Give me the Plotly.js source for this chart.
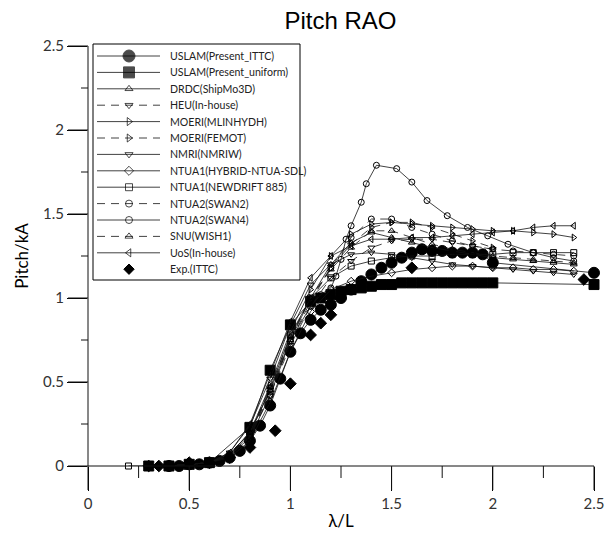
<!DOCTYPE html>
<html><head><meta charset="utf-8">
<script src="https://cdn.plot.ly/plotly-3.0.1.min.js"></script>
<style>body{margin:0;padding:0;background:#fff}</style>
</head><body><div id="chart"></div>
<script>
// ---- data ----
const names = ["USLAM(Present_ITTC)","USLAM(Present_uniform)","DRDC(ShipMo3D)","HEU(In-house)","MOERI(MLINHYDH)","MOERI(FEMOT)","NMRI(NMRIW)","NTUA1(HYBRID-NTUA-SDL)","NTUA1(NEWDRIFT 885)","NTUA2(SWAN2)","NTUA2(SWAN4)","SNU(WISH1)","UoS(In-house)","Exp.(ITTC)"];

const xIttc = [0.4,0.45,0.5,0.55,0.6,0.65,0.7,0.75,0.8,0.85,0.9,0.95,1.0,1.05,1.1,1.15,1.2,1.25,1.3,1.35,1.4,1.45,1.5,1.55,1.6,1.65,1.7,1.75,1.8,1.85,1.9,1.95,2.0,2.5];
const yIttc = [0,0,0.01,0.01,0.02,0.03,0.05,0.09,0.15,0.24,0.36,0.52,0.68,0.79,0.87,0.93,0.96,1.0,1.05,1.1,1.14,1.18,1.21,1.24,1.27,1.29,1.28,1.28,1.27,1.27,1.27,1.26,1.21,1.15];

const xUni = [0.3,0.4,0.5,0.6,0.8,0.9,1.0,1.1,1.15,1.2,1.25,1.3,1.35,1.4,1.45,1.5,1.55,1.6,1.65,1.7,1.75,1.8,1.85,1.9,1.95,2.0,2.5];
const yUni = [0,0,0.01,0.02,0.23,0.57,0.84,0.98,1.0,1.02,1.04,1.05,1.06,1.07,1.08,1.08,1.09,1.09,1.09,1.09,1.09,1.09,1.09,1.09,1.09,1.09,1.08];

const xStep = [0.4,0.5,0.6,0.7,0.8,0.9,1.0,1.1,1.2,1.3,1.4,1.5,1.6,1.7,1.8,1.9,2.0,2.1,2.2,2.3,2.4];

const xDrdc = [0.3,0.4,0.5,0.6,0.7,0.8,0.9,1.0,1.1,1.2,1.3,1.4,1.5,1.6,1.7,1.8,1.9,2.0,2.1,2.2,2.3,2.4];
const yDrdc = [0,0,0.01,0.02,0.07,0.2,0.45,0.75,1.0,1.2,1.33,1.39,1.36,1.33,1.3,1.28,1.26,1.24,1.23,1.22,1.21,1.2];

const xHeu = [0.4,0.5,0.6,0.7,0.8,0.9,1.0,1.1,1.2,1.3,1.4,1.5,1.6,1.7,1.8,1.9,2.0];
const yHeu = [0,0.01,0.02,0.06,0.18,0.42,0.72,0.95,1.12,1.22,1.3,1.34,1.35,1.35,1.33,1.31,1.29];

const yMlin = [0,0.01,0.02,0.07,0.2,0.48,0.8,1.05,1.25,1.38,1.44,1.45,1.44,1.43,1.42,1.41,1.40,1.40,1.39,1.38,1.36];

const xFemot = [0.4,0.5,0.6,0.7,0.8,0.9,1.0,1.1,1.2,1.3,1.4,1.5,1.6,1.7,1.8,1.9,2.0];
const yFemot = [0,0.01,0.02,0.06,0.18,0.45,0.76,1.0,1.18,1.32,1.42,1.45,1.45,1.42,1.38,1.34,1.3];

const yNmri = [0,0.01,0.02,0.08,0.24,0.52,0.84,1.08,1.2,1.26,1.27,1.26,1.24,1.22,1.2,1.19,1.18,1.17,1.16,1.15,1.14];

const xHyb = [0.3,0.4,0.5,0.6,0.7,0.8,0.9,1.0,1.1,1.2,1.3,1.4,1.5,1.6,1.7,1.8,1.9,2.0,2.1,2.2,2.3,2.4];
const yHyb = [0,0,0.01,0.02,0.05,0.15,0.38,0.68,0.92,1.05,1.1,1.13,1.15,1.17,1.18,1.19,1.19,1.18,1.18,1.17,1.17,1.16];

const xNew = [0.2,0.3,0.4,0.5,0.6,0.7,0.8,0.9,1.0,1.1,1.2,1.3,1.4,1.5,1.6,1.7,1.8,1.9,2.0,2.1,2.2,2.3,2.4];
const yNew = [0,0,0,0.01,0.02,0.06,0.19,0.46,0.78,1.0,1.12,1.19,1.22,1.24,1.25,1.25,1.26,1.26,1.26,1.27,1.27,1.27,1.27];

const ySwan2 = [0,0.01,0.02,0.06,0.18,0.44,0.74,0.98,1.18,1.36,1.47,1.47,1.42,1.38,1.34,1.31,1.29,1.28,1.27,1.26,1.25];

const xSwan4 = [0.4,0.5,0.6,0.7,0.8,0.9,1.0,1.1,1.15,1.2,1.225,1.25,1.275,1.3,1.35,1.375,1.425,1.525,1.6,1.675,1.775,1.875,1.975,2.075,2.2,2.3,2.4];
const ySwan4 = [0,0.01,0.02,0.06,0.17,0.42,0.75,0.95,1.02,1.06,1.13,1.23,1.35,1.43,1.57,1.68,1.79,1.77,1.69,1.58,1.49,1.42,1.37,1.32,1.27,1.24,1.22];

const ySnu = [0,0.01,0.02,0.07,0.2,0.47,0.77,1.0,1.17,1.3,1.4,1.4,1.36,1.32,1.29,1.27,1.25,1.24,1.23,1.22,1.21];

const yUos = [0,0.01,0.02,0.08,0.25,0.55,0.86,1.12,1.25,1.31,1.35,1.35,1.36,1.36,1.37,1.38,1.39,1.40,1.42,1.43,1.43];

const xExp = [0.3,0.35,0.4,0.5,0.6,0.7,0.8,0.925,1.0,1.1,1.15,1.2,1.6,2.45];
const yExp = [0,0,0,0.02,0.02,0.05,0.11,0.21,0.49,0.78,0.85,0.9,1.18,1.11];

const xTicks = [0,0.5,1,1.5,2,2.5];
const xMinor = [0.25,0.75,1.25,1.75,2.25];
const yTicks = [0,0.5,1,1.5,2,2.5];
const yMinor = [0.25,0.75,1.25,1.75,2.25];
const xRange = [0,2.5];
const yRange = [0,2.5];

// ---- figure geometry ----
const FW = 608, FH = 535;
const P = {l:88, r:594, t:46, b:466};
const xDom = [P.l/FW, P.r/FW];
const yDom = [1 - P.b/FH, 1 - P.t/FH];

// ---- series styles ----
const D = '8px,6px';
const styles = [
  {sym:'circle', size:11}, {sym:'square', size:10},
  {sym:'triangle-up-open', size:6}, {sym:'triangle-down-open', size:6, dash:D},
  {sym:'triangle-right-open', size:6}, {sym:'triangle-right-open', size:6, dash:D},
  {sym:'triangle-down-open', size:6}, {sym:'diamond-open', size:6},
  {sym:'square-open', size:6}, {sym:'circle-open', size:6, dash:D},
  {sym:'circle-open', size:6}, {sym:'triangle-up-open', size:6, dash:D},
  {sym:'triangle-left-open', size:6}, {sym:'diamond', size:9, nolines:true}
];
const series = [[xIttc,yIttc],[xUni,yUni],[xDrdc,yDrdc],[xHeu,yHeu],[xStep,yMlin],[xFemot,yFemot],[xStep,yNmri],[xHyb,yHyb],[xNew,yNew],[xStep,ySwan2],[xSwan4,ySwan4],[xStep,ySnu],[xStep,yUos],[xExp,yExp]];

const LC = '#111';

// ---- axis lines and tick marks: one line trace on the full-page pixel subplot (x2/y2),
//      positioned with the same linear mapping the x/y axes use (domain + range) ----
const X = v => FW*(xDom[0] + (v-xRange[0])/(xRange[1]-xRange[0])*(xDom[1]-xDom[0]));
const Y = v => FH*(1 - (yDom[0] + (v-yRange[0])/(yRange[1]-yRange[0])*(yDom[1]-yDom[0])));
const axX = [], axY = [];
const seg = (a,b,c,d)=>{ axX.push(a,c,null); axY.push(b,d,null); };
const ox = X(xRange[0]), oy = Y(yRange[0]);
seg(X(xRange[0]), oy, X(xRange[1]), oy);
seg(ox, Y(yRange[0]), ox, Y(yRange[1]));
xTicks.forEach(v=>seg(X(v), oy, X(v), oy+24));
xMinor.forEach(v=>seg(X(v), oy, X(v), oy+12));
yTicks.forEach(v=>seg(ox, Y(v), ox-20, Y(v)));
yMinor.forEach(v=>seg(ox, Y(v), ox-7, Y(v)));

const data = [{type:'scatter', mode:'lines', xaxis:'x2', yaxis:'y2', x:axX, y:axY, showlegend:false, hoverinfo:'skip',
  cliponaxis:false, line:{color:LC, width:1}, connectgaps:false}];

series.forEach((s,i)=>data.push({
  type:'scatter', mode: styles[i].nolines ? 'markers' : 'lines+markers', name:names[i], x:s[0], y:s[1],
  cliponaxis:false, showlegend:false,
  line:{color:LC, width:0.8, dash: styles[i].dash || 'solid'},
  marker:{symbol:styles[i].sym, size:styles[i].size, color:'#000', line:{color:'#000', width:1}}
}));

// ---- hand-built legend on the same pixel subplot ----
const LG = {x0:93, x1:300, y0:44, y1:280, first:56, step:16.4, lineA:97, lineB:160, mk:129, text:168};
const annotations = [];
names.forEach((nm,i)=>{
  const yy = LG.first + LG.step*i;
  const st = styles[i];
  data.push({type:'scatter', xaxis:'x2', yaxis:'y2', mode: st.nolines ? 'markers' : 'lines+markers',
    x: st.nolines ? [LG.mk] : [LG.lineA, LG.mk, LG.lineB], y: st.nolines ? [yy] : [yy,yy,yy],
    cliponaxis:false, showlegend:false, hoverinfo:'skip',
    line:{color:LC, width:0.8, dash: st.dash || 'solid'},
    marker:{symbol:st.sym, size: st.nolines ? st.size-1 : [0, st.size+1, 0], color:'#000', line:{color:'#000', width:1}}});
  annotations.push({xref:'x2', yref:'y2', x:LG.text, y:yy, text:nm, showarrow:false, xanchor:'left', yanchor:'middle',
    font:{family:'Lato, "Open Sans", sans-serif', size:10.6, color:'#222'}});
});

const shapes = [{type:'rect', xref:'paper', yref:'paper', layer:'below',
    x0:LG.x0/FW, x1:LG.x1/FW, y0:1-LG.y1/FH, y1:1-LG.y0/FH,
    line:{color:'#000', width:1}, fillcolor:'#fff'}];

const tickFont = {family:'Lato, "Open Sans", sans-serif', size:15, color:'#333'};
const layout = {
  width:FW, height:FH,
  margin:{l:0, r:0, t:0, b:0, pad:0},
  paper_bgcolor:'#fff', plot_bgcolor:'rgba(0,0,0,0)',
  title:{text:'Pitch RAO', font:{family:'"Liberation Sans", Arial, sans-serif', size:24, color:'#000'}, x:0.56, xanchor:'center', y:0.962, yanchor:'middle'},
  showlegend:false,
  annotations, shapes,
  xaxis:{domain:xDom, anchor:'y', range:xRange, tickvals:xTicks, ticktext:xTicks.map(String), ticks:'outside', ticklen:24, tickcolor:'#000', tickwidth:1,
    showline:false, zeroline:false, showgrid:false, tickfont:tickFont, automargin:false,
    title:{text:'λ/L', font:{family:'Lato, "Open Sans", sans-serif', size:17, color:'#000'}, standoff:4}},
  yaxis:{domain:yDom, anchor:'x', range:yRange, tickvals:yTicks, ticktext:yTicks.map(String), ticks:'outside', ticklen:20, tickcolor:'#000', tickwidth:1,
    showline:false, zeroline:false, showgrid:false, tickfont:tickFont, automargin:false,
    title:{text:'Pitch/kA', font:{family:'Lato, "Open Sans", sans-serif', size:17, color:'#000'}, standoff:10}},
  xaxis2:{domain:[0,1], anchor:'y2', range:[0, FW], visible:false, fixedrange:true, automargin:false},
  yaxis2:{domain:[0,1], anchor:'x2', range:[FH, 0], visible:false, fixedrange:true, automargin:false}
};

Plotly.newPlot('chart', data, layout, {displayModeBar:false, staticPlot:true});
</script></body></html>
